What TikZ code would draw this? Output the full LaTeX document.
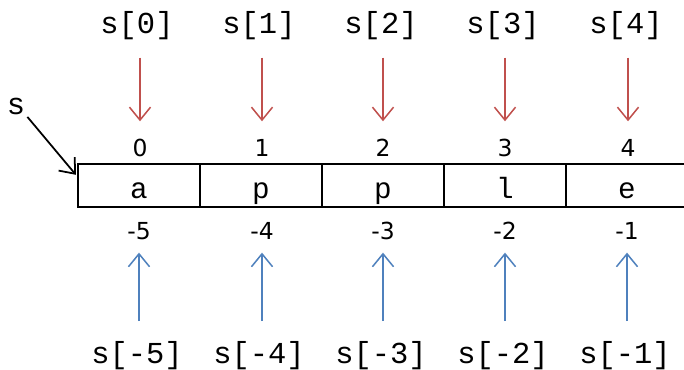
\documentclass[tikz,border=0pt]{standalone}
\usepackage{fontspec}
\usetikzlibrary{arrows.meta}
\newfontfamily\codefont{Liberation Mono}
\newfontfamily\numfont{DejaVu Sans}
\definecolor{arrowred}{HTML}{C0504D}
\definecolor{arrowblue}{HTML}{4F81BD}

\begin{document}
\begin{tikzpicture}[x=0.03cm, y=-0.03cm, every path/.style={line width=1.3pt},
  cell/.style={draw, line width=1.7pt, minimum width=3.66cm, minimum height=1.29cm, inner sep=0pt, text height=21.4pt, text depth=0pt, font=\codefont\fontsize{25}{25}\selectfont},
  idx/.style={anchor=base, inner sep=0pt, text height=12pt, text depth=0pt, font=\numfont\fontsize{20}{20}\selectfont},
  sub/.style={anchor=base, inner sep=0pt, text height=20pt, text depth=0pt, font=\codefont\fontsize{26}{26}\selectfont},
  redarrow/.style={arrowred, -{Straight Barb[length=11pt, width=18pt]}, shorten <=19.6pt, shorten >=17pt},
  bluearrow/.style={arrowblue, -{Straight Barb[length=11pt, width=18pt]}, shorten <=15pt, shorten >=11pt}]
\useasboundingbox (0,0) rectangle (684,369);

% the string
\node[cell] (c0) at (139,185.5) {a};
\node[cell] (c1) at (261,185.5) {p};
\node[cell] (c2) at (383,185.5) {p};
\node[cell] (c3) at (505,185.5) {l};
\node[cell] (c4) at (627,185.5) {e};

% positive and negative indices
\node[idx] (p0) at (140,156) {0};
\node[idx] (p1) at (262,156) {1};
\node[idx] (p2) at (383,156) {2};
\node[idx] (p3) at (505,156) {3};
\node[idx] (p4) at (628,156) {4};
\node[idx] (n0) at (139,239) {-5};
\node[idx] (n1) at (262,239) {-4};
\node[idx] (n2) at (383,239) {-3};
\node[idx] (n3) at (505,239) {-2};
\node[idx] (n4) at (627,239) {-1};

% subscripts
\node[sub] (t0) at (137,34) {s[0]};
\node[sub] (t1) at (259,34) {s[1]};
\node[sub] (t2) at (381,34) {s[2]};
\node[sub] (t3) at (503,34) {s[3]};
\node[sub] (t4) at (626,34) {s[4]};
\node[sub] (b0) at (137,363) {s[-5]};
\node[sub] (b1) at (259,363) {s[-4]};
\node[sub] (b2) at (381,363) {s[-3]};
\node[sub] (b3) at (503,363) {s[-2]};
\node[sub] (b4) at (625,363) {s[-1]};

\node[sub] (s) at (16,115) {s};

\draw[redarrow] (t0.south -| p0) -- (p0);
\draw[redarrow] (t1.south -| p1) -- (p1);
\draw[redarrow] (t2.south -| p2) -- (p2);
\draw[redarrow] (t3.south -| p3) -- (p3);
\draw[redarrow] (t4.south -| p4) -- (p4);
\draw[bluearrow] (b0.north -| n0) -- (n0);
\draw[bluearrow] (b1.north -| n1) -- (n1);
\draw[bluearrow] (b2.north -| n2) -- (n2);
\draw[bluearrow] (b3.north -| n3) -- (n3);
\draw[bluearrow] (b4.north -| n4) -- (n4);
\draw[-{Straight Barb[length=11pt, width=18pt]}, line width=1.5pt, shorten <=2pt, shorten >=1.5pt] (s) -- ([yshift=8pt]c0.west);
\end{tikzpicture}
\end{document}
